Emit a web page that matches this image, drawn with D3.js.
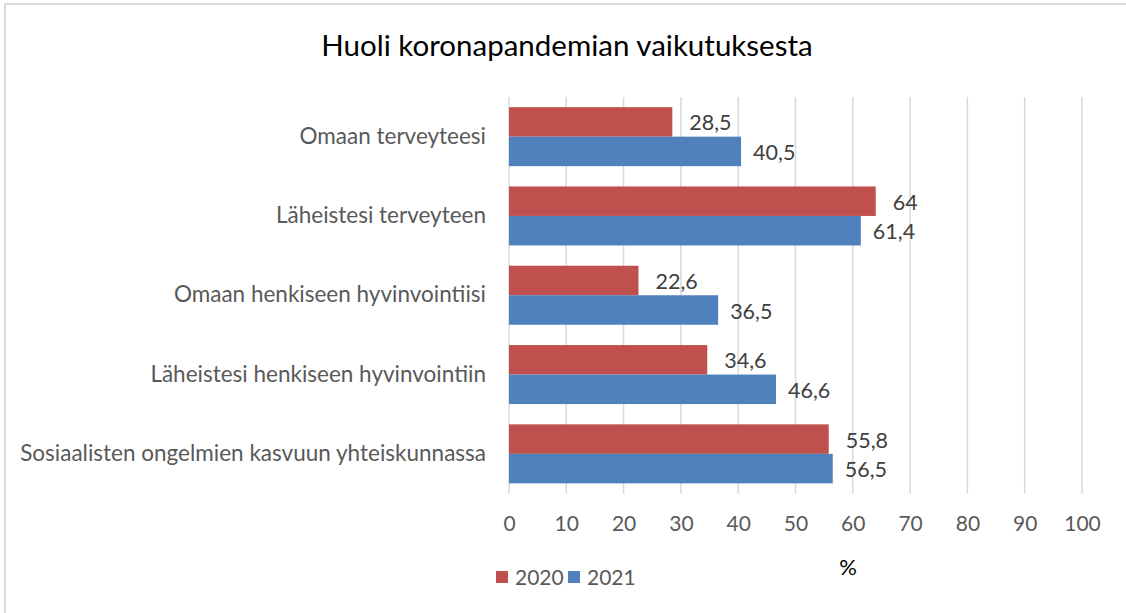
<!DOCTYPE html>
<html>
<head>
<meta charset="utf-8">
<script src="https://cdn.jsdelivr.net/npm/d3@7"></script>
<style>
  body { margin: 0; background: #fff; }
  svg { font-family: Lato, "Open Sans", sans-serif; }
</style>
</head>
<body>
<div id="chart"></div>
<script>
// data
const categories = ["Omaan terveyteesi", "Läheistesi terveyteen", "Omaan henkiseen hyvinvointiisi",
  "Läheistesi henkiseen hyvinvointiin", "Sosiaalisten ongelmien kasvuun yhteiskunnassa"];
const series = ["2020", "2021"];
const values2020 = [28.5, 64, 22.6, 34.6, 55.8];
const values2021 = [40.5, 61.4, 36.5, 46.6, 56.5];
const xTicks = [0, 10, 20, 30, 40, 50, 60, 70, 80, 90, 100];
const colors = ["#C0504D", "#4F81BD"];

const width = 1126, height = 613;
const margin = {top: 97, right: 44, bottom: 120, left: 509};

const svg = d3.select("#chart")
  .append("svg")
    .attr("width", width)
    .attr("height", height);

// chart border
svg.append("rect")
  .attr("x", 5).attr("y", 4)
  .attr("width", width + 20).attr("height", height + 20)
  .attr("fill", "none")
  .attr("stroke", "#d9d9d9")
  .attr("stroke-width", 2);

svg.append("text")
  .attr("x", 567)
  .attr("y", 56)
  .attr("text-anchor", "middle")
  .attr("font-size", 29.5)
  .attr("fill", "#000")
  .text("Huoli koronapandemian vaikutuksesta");

const x = d3.scaleLinear()
  .domain([0, 100])
  .range([margin.left, width - margin.right]);

const y = d3.scaleBand()
  .domain(categories)
  .range([margin.top, height - margin.bottom + 0.5])
  .paddingInner(0.256)
  .paddingOuter(0.128);

const ySub = d3.scaleBand()
  .domain(series)
  .range([0, y.bandwidth()]);

const rows = categories.map((c, i) => ({category: c, values: [values2020[i], values2021[i]]}));

// grid
svg.append("g")
  .selectAll("line")
  .data(xTicks)
  .join("line")
    .attr("x1", d => x(d)).attr("x2", d => x(d))
    .attr("y1", margin.top).attr("y2", height - margin.bottom + 0.5)
    .attr("stroke", "#d9d9d9")
    .attr("stroke-width", 1.5);

// x axis labels
const xAxis = g => g
  .attr("transform", `translate(0,${height - margin.bottom + 0.5})`)
  .call(d3.axisBottom(x).tickValues(xTicks).tickSize(0).tickPadding(23))
  .call(g => g.select(".domain").remove())
  .call(g => g.selectAll(".tick text")
    .attr("font-family", "Lato, sans-serif")
    .attr("font-size", 21)
    .attr("fill", "#595959"));
svg.append("g").call(xAxis);

// category labels
const yAxis = g => g
  .attr("transform", `translate(${margin.left},0)`)
  .call(d3.axisLeft(y).tickSize(0).tickPadding(23))
  .call(g => g.select(".domain").remove())
  .call(g => g.selectAll(".tick text")
    .attr("font-family", "Lato, sans-serif")
    .attr("font-size", 22.5)
    .attr("fill", "#595959"));
svg.append("g").call(yAxis);

const groups = svg.append("g")
  .selectAll("g")
  .data(rows)
  .join("g")
    .attr("transform", d => `translate(0,${y(d.category)})`);

groups.selectAll("rect")
  .data(d => d.values.map((v, i) => ({series: series[i], value: v, i})))
  .join("rect")
    .attr("x", x(0))
    .attr("y", d => ySub(d.series))
    .attr("width", d => x(d.value) - x(0))
    .attr("height", ySub.bandwidth())
    .attr("fill", d => colors[d.i]);

groups.selectAll("text")
  .data(d => d.values.map((v, i) => ({series: series[i], value: v, i})))
  .join("text")
    .attr("x", d => x(d.value) + (d.i === 0 ? 17 : 12))
    .attr("y", d => ySub(d.series) + ySub.bandwidth() / 2)
    .attr("dy", "0.4em")
    .attr("font-size", 21.5)
    .attr("fill", "#404040")
    .text(d => String(d.value).replace(".", ","));

// legend
const legend = svg.append("g")
  .selectAll("g")
  .data(series)
  .join("g")
    .attr("transform", (d, i) => `translate(${496 + i * 72},571)`);
legend.append("rect")
  .attr("width", 12).attr("height", 12)
  .attr("fill", (d, i) => colors[i]);
legend.append("text")
  .attr("x", 19)
  .attr("y", 6)
  .attr("dy", "0.36em")
  .attr("font-size", 21)
  .attr("fill", "#595959")
  .text(d => d);

svg.append("text")
  .attr("x", 848)
  .attr("y", 567)
  .attr("dy", "0.36em")
  .attr("text-anchor", "middle")
  .attr("font-size", 22)
  .attr("fill", "#000")
  .text("%");
</script>
</body>
</html>
